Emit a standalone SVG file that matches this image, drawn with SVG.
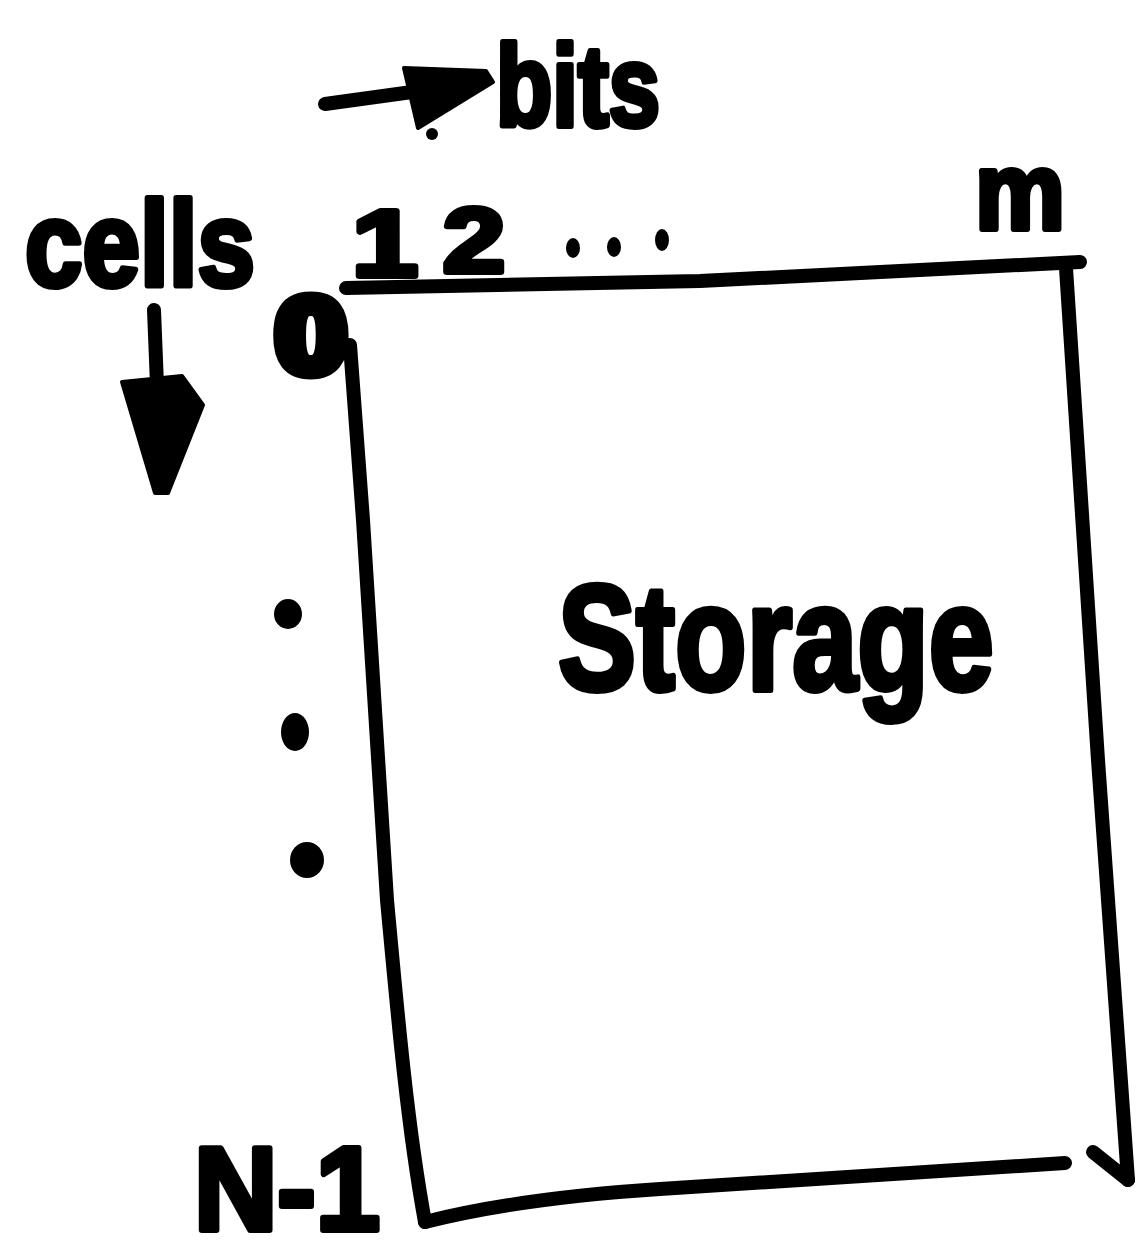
<svg xmlns="http://www.w3.org/2000/svg" width="1138" height="1258" viewBox="0 0 1138 1258">
<style>
.ln{fill:none;stroke:#000;stroke-width:14;stroke-linecap:round;stroke-linejoin:round}
.t{font-family:"Liberation Sans",Arial,sans-serif;font-weight:bold;fill:#000;stroke:#000;stroke-width:6;stroke-linejoin:round}
</style>
<rect width="1138" height="1258" fill="#fff"/>
<g id="storage-box">
<path class="ln" d="M346,288 L700,281 L900,271 L1080,262"/>
<path class="ln" d="M350,345 L363,520 L387,900 C398,1020 408,1130 425,1222"/>
<path class="ln" d="M425,1222 Q520,1198 660,1189 L1065,1163"/>
<path class="ln" d="M1066,268 L1098,760 L1128,1180"/>
<path class="ln" d="M1093,1152 L1128,1180" stroke-width="11"/>
<text class="t" x="558" y="690" font-size="150" textLength="436" lengthAdjust="spacingAndGlyphs">Storage</text>
</g>
<g id="bits-axis">
<path class="ln" d="M325,104 L412,92" stroke-width="22"/>
<polygon points="404,68 486,71 493,82 418,128" fill="#000" stroke="#000" stroke-width="4" stroke-linejoin="round"/>
<circle cx="432" cy="134" r="6" fill="#000"/>
<text class="t" x="496" y="126" font-size="115" textLength="164" lengthAdjust="spacingAndGlyphs">bits</text>
<text class="t" x="352" y="276" font-size="95" textLength="66" lengthAdjust="spacingAndGlyphs">1</text>
<text class="t" x="443" y="272" font-size="90" textLength="62" lengthAdjust="spacingAndGlyphs">2</text>
<ellipse cx="573" cy="248" rx="7" ry="10" fill="#000"/>
<ellipse cx="614" cy="247" rx="7" ry="10" fill="#000"/>
<ellipse cx="662" cy="240" rx="7" ry="11" fill="#000"/>
<text class="t" x="975" y="229" font-size="110" textLength="90" lengthAdjust="spacingAndGlyphs">m</text>
</g>
<g id="cells-axis">
<text class="t" x="25" y="286" font-size="120" textLength="230" lengthAdjust="spacingAndGlyphs">cells</text>
<path class="ln" d="M154,310 L157,385" stroke-width="26"/>
<polygon points="122,382 182,376 203,405 168,493 155,493" fill="#000" stroke="#000" stroke-width="4" stroke-linejoin="round"/>
<text x="276" y="372" font-size="105" font-family="Liberation Sans, Arial, sans-serif" font-weight="bold" fill="#000" stroke="#000" stroke-width="13" stroke-linejoin="round" textLength="70" lengthAdjust="spacingAndGlyphs">0</text>
<ellipse cx="288" cy="614" rx="14" ry="15" fill="#000"/>
<ellipse cx="295" cy="732" rx="14" ry="19" fill="#000"/>
<ellipse cx="307" cy="860" rx="17" ry="18" fill="#000"/>
<text class="t" x="194" y="1230" font-size="118" textLength="186" lengthAdjust="spacingAndGlyphs">N-1</text>
</g>
</svg>
